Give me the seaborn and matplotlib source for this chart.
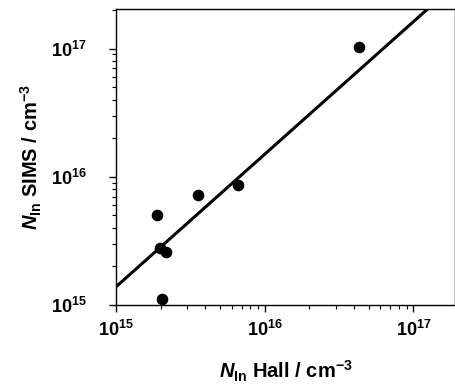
import numpy as np
import matplotlib
matplotlib.use("Agg")
import matplotlib.pyplot as plt
import seaborn as sns

# In concentration from Hall vs SIMS (cm^-3)
n_hall = [1.88e15, 1.97e15, 2.19e15, 2.05e15, 3.57e15, 6.62e15, 4.28e16]
n_sims = [5.05e15, 2.77e15, 2.61e15, 1.11e15, 7.20e15, 8.66e15, 1.03e17]

# fitted line in log space: log10(y) = FIT_B + FIT_M * (log10(x) - 15)
FIT_M = 1.035
FIT_B = 15.14

X_LIM = (1e15, 10 ** 17.28)
Y_LIM = (1e15, 10 ** 17.31)

sns.set_theme(style="ticks")
plt.rcParams["font.family"] = ["Liberation Sans", "DejaVu Sans"]
plt.rcParams["mathtext.fontset"] = "custom"
plt.rcParams["mathtext.rm"] = "Liberation Sans:bold"
plt.rcParams["mathtext.it"] = "Liberation Sans:italic:bold"
plt.rcParams["text.color"] = "black"
plt.rcParams["axes.labelcolor"] = "black"

fig = plt.figure(figsize=(4.56, 3.85), dpi=100)
ax = fig.add_axes([0.254, 0.208, 0.744, 0.769])

fit_x = np.logspace(np.log10(X_LIM[0]), np.log10(X_LIM[1]), 50)
fit_y = 10 ** (FIT_B + FIT_M * (np.log10(fit_x) - 15))
sns.lineplot(x=fit_x, y=fit_y, ax=ax, color="black", linewidth=2.2)
sns.scatterplot(x=n_hall, y=n_sims, ax=ax, color="black", s=70,
                edgecolor="black", linewidth=0, zorder=3)

ax.set_xscale("log")
ax.set_yscale("log")
ax.set_xlim(*X_LIM)
ax.set_ylim(*Y_LIM)
ax.set_xticks([1e15, 1e16, 1e17])
ax.set_yticks([1e15, 1e16, 1e17])
ax.set_xticklabels([r"10$^{15}$", r"10$^{16}$", r"10$^{17}$"])
ax.set_yticklabels([r"10$^{15}$", r"10$^{16}$", r"10$^{17}$"])

for side in ["top", "right", "left", "bottom"]:
    ax.spines[side].set_visible(True)
    ax.spines[side].set_color("black")
    ax.spines[side].set_linewidth(1.0)

ax.tick_params(which="major", direction="out", length=5, width=1.0,
               labelsize=13, colors="black")
ax.tick_params(which="minor", direction="out", length=3, width=0.8,
               colors="black")
ax.tick_params(axis="y", which="major", pad=16)
ax.tick_params(axis="x", which="major", pad=6)
for lab in ax.get_xticklabels() + ax.get_yticklabels():
    lab.set_fontweight("bold")

ax.set_xlabel(r"$N_{\rm In}$ Hall / cm$^{-3}$", fontsize=14.5,
              fontweight="bold", labelpad=13)
ax.set_ylabel(r"$N_{\rm In}$ SIMS / cm$^{-3}$", fontsize=14.5,
              fontweight="bold", labelpad=5)

fig.savefig("out.png", dpi=100)
